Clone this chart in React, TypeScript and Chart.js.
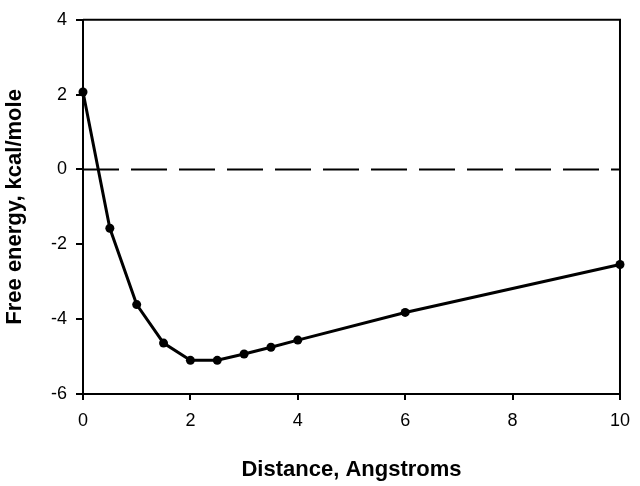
import React, { useEffect, useRef } from "react";
import { Chart, registerables } from "chart.js";

Chart.register(...registerables);

const distances = [0, 0.5, 1, 1.5, 2, 2.5, 3, 3.5, 4, 6, 10];
const freeEnergy = [2.07, -1.57, -3.61, -4.64, -5.1, -5.1, -4.93, -4.75, -4.56, -3.82, -2.54];
const xTicks = [0, 2, 4, 6, 8, 10];
const yTicks = [-6, -4, -2, 0, 2, 4];
const referenceRange = [0, 10];
const referenceLevel = 0;

const xTitle = "Distance, Angstroms";
const yTitle = "Free energy, kcal/mole";

const FONT = "Arial, 'Liberation Sans', Helvetica, sans-serif";

const framePlugin = {
  id: "frame",
  beforeDatasetsDraw(chart: any) {
    const { ctx, chartArea } = chart;
    const { left, right, top, bottom } = chartArea;
    ctx.save();
    ctx.strokeStyle = "#000";
    ctx.lineWidth = 2;
    ctx.beginPath();
    ctx.moveTo(left, top);
    ctx.lineTo(right, top);
    ctx.lineTo(right, bottom);
    ctx.stroke();
    ctx.restore();
  },
};

export default function App() {
  const ref = useRef<HTMLCanvasElement | null>(null);

  useEffect(() => {
    if (!ref.current) return;
    const chart = new Chart(ref.current, {
      type: "line",
      data: {
        datasets: [
          {
            label: "zero",
            data: referenceRange.map((x) => ({ x, y: referenceLevel })),
            borderColor: "#000",
            borderWidth: 2,
            borderDash: [36, 12],
            pointRadius: 0,
            fill: false,
          },
          {
            label: "Free energy",
            data: distances.map((x, i) => ({ x, y: freeEnergy[i] })),
            borderColor: "#000",
            backgroundColor: "#000",
            borderWidth: 3,
            pointRadius: 4.5,
            pointBackgroundColor: "#000",
            pointBorderColor: "#000",
            pointBorderWidth: 0,
            tension: 0,
            fill: false,
            clip: false as any,
          },
        ],
      },
      options: {
        animation: false,
        responsive: false,
        maintainAspectRatio: false,
        layout: { padding: { top: 11, right: 12, left: 0, bottom: 0 } },
        plugins: {
          legend: { display: false },
          tooltip: { enabled: false },
        },
        scales: {
          x: {
            type: "linear",
            min: 0,
            max: 10,
            afterBuildTicks: (s: any) => {
              s.ticks = xTicks.map((v) => ({ value: v }));
            },
            afterFit: (s: any) => {
              s.height = 92;
            },
            grid: {
              drawOnChartArea: false,
              drawTicks: true,
              tickLength: 6,
              color: "#000",
              tickColor: "#000",
              lineWidth: 2,
              tickWidth: 2,
            },
            border: { color: "#000", width: 2 },
            ticks: {
              color: "#000",
              font: { family: FONT, size: 18 },
              padding: 10,
              maxRotation: 0,
            },
            title: {
              display: true,
              text: xTitle,
              color: "#000",
              font: { family: FONT, size: 22, weight: "bold" },
              padding: { top: 0, bottom: 3 },
            },
          },
          y: {
            type: "linear",
            min: -6,
            max: 4,
            afterBuildTicks: (s: any) => {
              s.ticks = yTicks.map((v) => ({ value: v }));
            },
            afterFit: (s: any) => {
              s.width = 83;
            },
            grid: {
              drawOnChartArea: false,
              drawTicks: true,
              tickLength: 7,
              color: "#000",
              tickColor: "#000",
              lineWidth: 2,
              tickWidth: 2,
            },
            border: { color: "#000", width: 2 },
            ticks: {
              color: "#000",
              font: { family: FONT, size: 18 },
              padding: 9,
            },
            title: {
              display: true,
              text: yTitle,
              color: "#000",
              font: { family: FONT, size: 22, weight: "bold" },
              padding: { top: 2, bottom: 0 },
            },
          },
        },
      },
      plugins: [framePlugin],
    });
    return () => chart.destroy();
  }, []);

  return (
    <div style={{ position: "fixed", left: 0, top: 0, width: 640, height: 486, background: "#fff" }}>
      <canvas ref={ref} width={640} height={486} style={{ width: 640, height: 486, display: "block" }} />
    </div>
  );
}
